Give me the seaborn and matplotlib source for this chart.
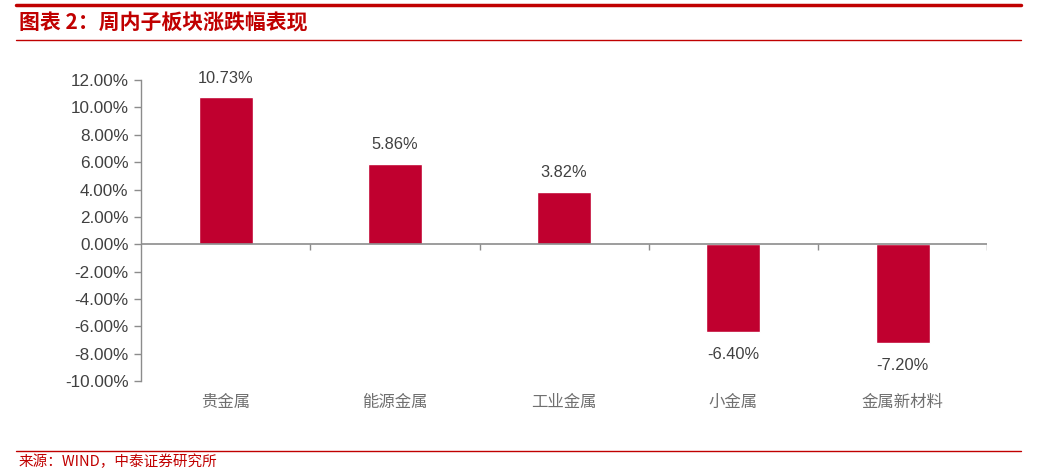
import numpy as np
import pandas as pd
import matplotlib
matplotlib.use('Agg')
import matplotlib.pyplot as plt
import seaborn as sns

categories = ['贵金属', '能源金属', '工业金属', '小金属', '金属新材料']
changes = [10.73, 5.86, 3.82, -6.40, -7.20]
y_ticks = [-10, -8, -6, -4, -2, 0, 2, 4, 6, 8, 10, 12]

BAR_COLOR = '#C0002F'
RED = '#C00000'
GRAY = '#404040'
AXIS_GRAY = '#8C8C8C'

sns.set_theme(style='white')
plt.rcParams['font.family'] = ['Liberation Sans', 'Noto Sans CJK SC', 'DejaVu Sans']
CJK = ['Noto Sans CJK SC', 'DejaVu Sans']

df = pd.DataFrame({'板块': categories, '涨跌幅': changes})

fig = plt.figure(figsize=(10.37, 4.74), dpi=100)
ax = fig.add_axes([0.136, 0.196, 0.816, 0.635])

sns.barplot(data=df, x='板块', y='涨跌幅', color=BAR_COLOR, width=0.32,
            saturation=1, ax=ax)

ax.set_ylim(-10, 12)
ax.set_xlim(-0.5, len(categories) - 0.5)
ax.set_yticks(y_ticks)
ax.set_yticklabels([f'{v:.2f}%' for v in y_ticks], color=GRAY, fontsize=12.3)
ax.set_xticks(range(len(categories)))
ax.set_xticklabels(categories, family=CJK, color='#707070', fontsize=11.8)
ax.tick_params(axis='x', length=0, pad=9)
ax.tick_params(axis='y', length=5, width=1, color=AXIS_GRAY, left=True, pad=4)
ax.set_xlabel('')
ax.set_ylabel('')

for s in ['top', 'right', 'bottom']:
    ax.spines[s].set_visible(False)
ax.spines['left'].set_color(AXIS_GRAY)
ax.spines['left'].set_linewidth(1)

# zero line with category boundary ticks
ax.axhline(0, color=AXIS_GRAY, lw=1.2, zorder=3)
bounds = np.arange(len(categories)) + 0.5
ax.vlines(bounds, -0.4, 0, color=AXIS_GRAY, lw=1, zorder=3)

for i, v in enumerate(changes):
    off = 0.85 if v > 0 else -1.1
    ax.text(i, v + off, f'{v:.2f}%', ha='center',
            va='bottom' if v > 0 else 'top', color=GRAY, fontsize=11.8)

# title / source decoration
fig.add_artist(plt.Line2D([0.015, 0.985], [0.989, 0.989], color=RED, lw=2.5))
fig.add_artist(plt.Line2D([0.015, 0.985], [0.915, 0.915], color=RED, lw=1))
fig.text(0.018, 0.952, '图表 2：周内子板块涨跌幅表现', family=CJK, fontsize=15,
         fontweight='bold', style='italic', color=RED, va='center', ha='left')
fig.add_artist(plt.Line2D([0.015, 0.985], [0.049, 0.049], color=RED, lw=1))
fig.text(0.018, 0.025, '来源：WIND，中泰证券研究所', family=CJK, fontsize=10.5,
         color=RED, va='center', ha='left')

fig.savefig('out.png', dpi=100)
